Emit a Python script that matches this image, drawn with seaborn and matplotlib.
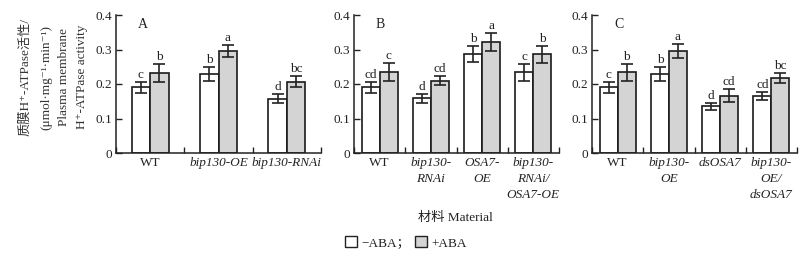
import numpy as np
import pandas as pd
import matplotlib
matplotlib.use("Agg")
import matplotlib.pyplot as plt
import seaborn as sns
from matplotlib.patches import Patch
from matplotlib.ticker import FixedLocator

sns.set_theme(style="ticks")
FAM = ['Liberation Serif', 'Noto Sans CJK SC', 'DejaVu Sans']
plt.rcParams['font.family'] = FAM

# ---------------- data ----------------
treatments = ["−ABA", "+ABA"]

a_cats = ["WT", "bip130-OE", "bip130-RNAi"]
a_minus = [0.190, 0.230, 0.157]
a_plus = [0.232, 0.296, 0.207]
a_minus_err = [0.016, 0.020, 0.013]
a_plus_err = [0.025, 0.018, 0.017]
a_minus_let = ["c", "b", "d"]
a_plus_let = ["b", "a", "bc"]
a_ticklabels = ["WT", "bip130-OE", "bip130-RNAi"]

b_cats = ["WT", "bip130-RNAi", "OSA7-OE", "bip130-RNAi/OSA7-OE"]
b_minus = [0.190, 0.158, 0.287, 0.234]
b_plus = [0.235, 0.210, 0.322, 0.286]
b_minus_err = [0.015, 0.014, 0.022, 0.025]
b_plus_err = [0.025, 0.013, 0.026, 0.024]
b_minus_let = ["cd", "d", "b", "c"]
b_plus_let = ["c", "cd", "a", "b"]
b_ticklabels = ["WT", "bip130-\nRNAi", "OSA7-\nOE", "bip130-\nRNAi/\nOSA7-OE"]

c_cats = ["WT", "bip130-OE", "dsOSA7", "bip130-OE/dsOSA7"]
c_minus = [0.190, 0.230, 0.135, 0.166]
c_plus = [0.234, 0.296, 0.166, 0.217]
c_minus_err = [0.015, 0.020, 0.011, 0.011]
c_plus_err = [0.025, 0.020, 0.019, 0.014]
c_minus_let = ["c", "b", "d", "cd"]
c_plus_let = ["b", "a", "cd", "bc"]
c_ticklabels = ["WT", "bip130-\nOE", "dsOSA7", "bip130-\nOE/\ndsOSA7"]

yticks = [0, 0.1, 0.2, 0.3, 0.4]
yticklabels = ["0", "0.1", "0.2", "0.3", "0.4"]

panels = [
    ("A", a_cats, a_minus, a_plus, a_minus_err, a_plus_err, a_minus_let, a_plus_let, a_ticklabels, 0.544),
    ("B", b_cats, b_minus, b_plus, b_minus_err, b_plus_err, b_minus_let, b_plus_let, b_ticklabels, 0.706),
    ("C", c_cats, c_minus, c_plus, c_minus_err, c_plus_err, c_minus_let, c_plus_let, c_ticklabels, 0.706),
]

W, H = 809, 256
fig = plt.figure(figsize=(W / 100, H / 100), dpi=100)
fig.patch.set_facecolor("white")

lefts = [116, 354, 592]
axw = 205
bottom_px, top_px = 153, 15
FS = 9.5
TXT = "#222222"
colors = {"−ABA": "white", "+ABA": "#d4d4d4"}

for (name, cats, mv, pv, me, pe, ml, pl, tl, width), lp in zip(panels, lefts):
    ax = fig.add_axes([lp / W, 1 - bottom_px / H, axw / W, (bottom_px - top_px) / H])
    df = pd.DataFrame({
        "material": cats * 2,
        "treatment": [treatments[0]] * len(cats) + [treatments[1]] * len(cats),
        "value": list(mv) + list(pv),
    })
    errs = list(me) + list(pe)
    lets = list(ml) + list(pl)
    sns.barplot(data=df, x="material", y="value", hue="treatment", order=cats,
                hue_order=treatments, palette=colors, width=width, gap=0,
                edgecolor="#1a1a1a", linewidth=1.2, errorbar=None, legend=False, ax=ax)
    bars = [p for p in ax.patches]
    for p, e, l in zip(bars, errs, lets):
        xc = p.get_x() + p.get_width() / 2
        h = p.get_height()
        ax.errorbar(xc, h, yerr=e, fmt="none", ecolor=TXT, elinewidth=1.2,
                    capsize=4.3, capthick=1.2, zorder=5)
        ax.text(xc, h + e + 0.003, l, ha="center", va="bottom", fontsize=FS,
                family=FAM, color=TXT)
    n = len(cats)
    ax.set_xlim(-0.5, n - 0.5)
    ax.set_ylim(0, 0.4)
    ax.set_yticks(yticks)
    ax.set_yticklabels(yticklabels, fontsize=FS, family=FAM)
    ax.set_xticks(range(n))
    ax.set_xticklabels(tl, fontsize=FS, style="italic", family=FAM, linespacing=1.42, va="top")
    for lab in ax.get_xticklabels():
        if lab.get_text() == "WT":
            lab.set_style("normal")
    ax.xaxis.set_minor_locator(FixedLocator([k - 0.5 for k in range(n + 1)]))
    ax.tick_params(axis="x", which="major", length=0, pad=3)
    ax.tick_params(axis="x", which="minor", direction="in", length=4, width=1.0, color=TXT)
    ax.tick_params(axis="y", direction="in", length=4, width=1.0, color=TXT, pad=3,
                   labelcolor=TXT)
    ax.tick_params(axis="x", labelcolor=TXT)
    ax.set_xlabel("")
    ax.set_ylabel("")
    for s in ["top", "right"]:
        ax.spines[s].set_visible(False)
    for s in ["left", "bottom"]:
        ax.spines[s].set_linewidth(1.1)
        ax.spines[s].set_color(TXT)
    ax.set_facecolor("white")
    ax.text(0.13, 0.93, name, transform=ax.transAxes, fontsize=FS + 0.5, family=FAM,
            ha="center", va="center", color=TXT)

# y label lines
ylab_lines = [
    "质膜H⁺-ATPase活性/",
    "(μmol·mg⁻¹·min⁻¹)",
    "Plasma membrane",
    "H⁺-ATPase activity",
]
ylab_x = [25, 46, 64, 82]
for t, xp in zip(ylab_lines, ylab_x):
    fig.text(xp / W, 1 - 77 / H, t, rotation=90, ha="center", va="center",
             fontsize=FS, family=FAM, color="#333333")

fig.text(455 / W, 1 - 218 / H, "材料 Material", ha="center", va="center",
         fontsize=FS, family=FAM, color=TXT)

handles = [Patch(facecolor="white", edgecolor=TXT, linewidth=1.0),
           Patch(facecolor="#d4d4d4", edgecolor=TXT, linewidth=1.0)]
leg = fig.legend(handles, ["−ABA；", "+ABA"], loc="center", bbox_to_anchor=(406 / W, 1 - 243 / H),
                 ncol=2, frameon=False, handlelength=0.9, handleheight=0.9,
                 handletextpad=0.4, columnspacing=0.3, prop={"family": FAM, "size": FS})
for t in leg.get_texts():
    t.set_color(TXT)

fig.savefig("out.png", dpi=100, facecolor="white")
